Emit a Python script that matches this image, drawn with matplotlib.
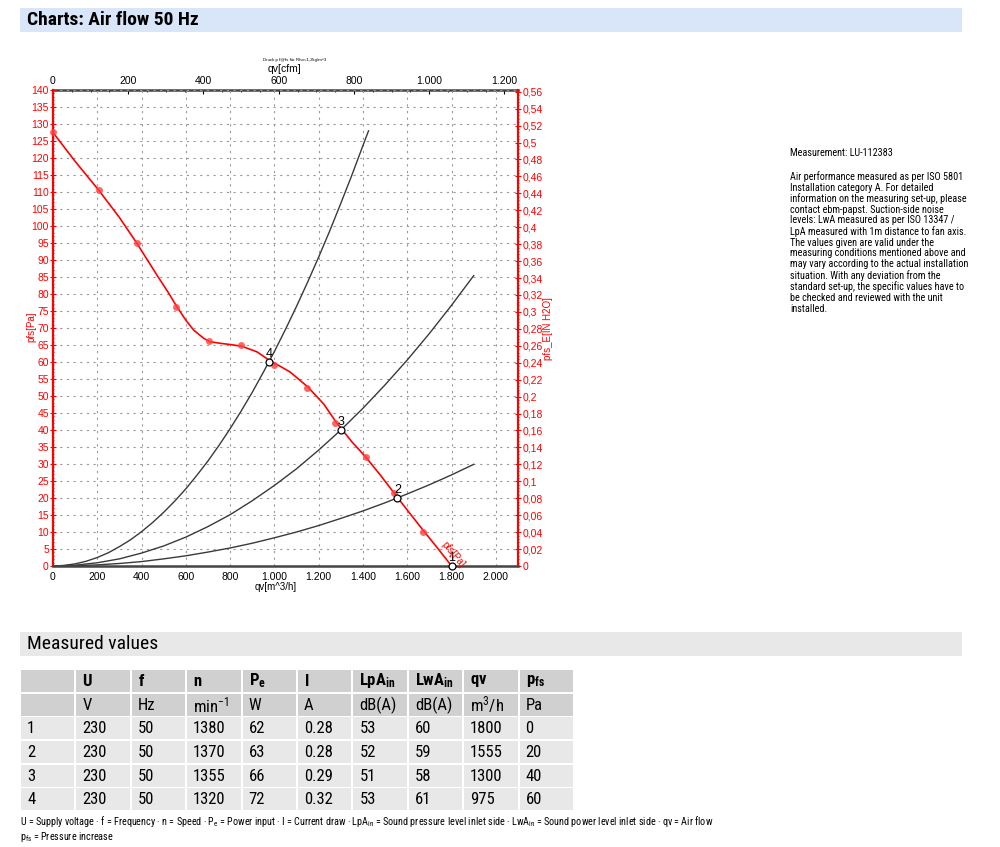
import numpy as np
import matplotlib
matplotlib.use("Agg")
import matplotlib.pyplot as plt
from matplotlib import font_manager
from matplotlib.patches import Rectangle
from matplotlib.ticker import MultipleLocator, FuncFormatter, FixedLocator

# pick a narrow Arial-like font if one is around
names = {f.name for f in font_manager.fontManager.ttflist}
NARROW = "Liberation Sans"
for cand in ["Liberation Sans Narrow", "Arial Narrow", "Roboto Condensed",
             "Archivo Narrow", "PT Sans Narrow", "Open Sans Condensed"]:
    if cand in names:
        NARROW = cand
        break
ARIAL = "Liberation Sans"
plt.rcParams["font.family"] = [ARIAL, "DejaVu Sans"]
plt.rcParams["mathtext.fontset"] = "custom"
plt.rcParams["mathtext.rm"] = NARROW
plt.rcParams["mathtext.bf"] = NARROW + ":bold"
plt.rcParams["mathtext.it"] = NARROW + ":italic"

# fan curve (line) and measured dots
q_line = [0, 100, 207, 300, 378, 470, 520, 559, 600, 635, 680, 707, 756, 805, 854,
          921, 979, 1030, 1072, 1152, 1223, 1280, 1350, 1413, 1480, 1553, 1610,
          1673, 1740, 1800]
p_line = [127.5, 119, 110.5, 102.5, 95, 85.5, 80.5, 76.3, 72.3, 69.4, 67, 66, 65.5,
          65.1, 64.6, 63, 60.4, 58.6, 57, 52.6, 47.6, 42.2, 36.5, 32, 26.6, 20.4,
          15.6, 10.4, 5, 0]
q_dots = [0, 207, 378, 557, 704, 850, 997, 1147, 1275, 1413, 1538, 1673]
p_dots = [127.6, 110.5, 95, 76.2, 66.3, 64.9, 59.0, 52.5, 42.1, 32, 21.6, 10.1]

# system curves through the operating points
sys_q = [0, 100, 200, 300, 400, 500, 600, 700, 800, 900, 1000,
         1100, 1200, 1300, 1400, 1500, 1600, 1700, 1800, 1900]
sys_p2 = [0, 0.08, 0.33, 0.74, 1.3, 2.1, 3.0, 4.1, 5.3, 6.7, 8.3,
          10.0, 11.9, 14.0, 16.2, 18.6, 21.2, 23.9, 26.8, 29.9]
sys_p3 = [0, 0.24, 0.95, 2.1, 3.8, 5.9, 8.5, 11.6, 15.1, 19.2, 23.7,
          28.6, 34.1, 40.0, 46.4, 53.3, 60.6, 68.4, 76.7, 85.4]
sys_q4 = [0, 50, 100, 150, 200, 250, 300, 350, 400, 450, 500, 550, 600, 650, 700,
          750, 800, 850, 900, 950, 1000, 1050, 1100, 1150, 1200, 1250, 1300,
          1350, 1400, 1425]
sys_p4 = [0, 0.16, 0.63, 1.4, 2.5, 3.9, 5.7, 7.7, 10.1, 12.8, 15.8, 19.1, 22.7,
          26.7, 30.9, 35.5, 40.4, 45.6, 51.1, 57.0, 63.1, 69.6, 76.4, 83.5, 90.9,
          98.6, 106.7, 115.0, 123.7, 128]

# operating points
op_q = [1800, 1555, 1300, 975]
op_p = [0, 20, 40, 60]
op_lbl = ["1", "2", "3", "4"]

# measured values table
head1 = ["", r"$\mathbf{U}$", r"$\mathbf{f}$", r"$\mathbf{n}$", r"$\mathbf{P_e}$",
         r"$\mathbf{I}$", r"$\mathbf{LpA_{in}}$", r"$\mathbf{LwA_{in}}$",
         r"$\mathbf{qv}$", r"$\mathbf{p_{fs}}$"]
head2 = ["", "V", "Hz", r"min$^{-1}$", "W", "A", "dB(A)", "dB(A)", r"m$^3$/h", "Pa"]
rows = [
    ["1", "230", "50", "1380", "62", "0.28", "53", "60", "1800", "0"],
    ["2", "230", "50", "1370", "63", "0.28", "52", "59", "1555", "20"],
    ["3", "230", "50", "1355", "66", "0.29", "51", "58", "1300", "40"],
    ["4", "230", "50", "1320", "72", "0.32", "53", "61", "975", "60"],
]

note_text = ("Air performance measured as per ISO 5801\nInstallation category A. For detailed\n"
             "information on the measuring set-up, please\ncontact ebm-papst. Suction-side noise\n"
             "levels: LwA measured as per ISO 13347 /\nLpA measured with 1m distance to fan axis.\n"
             "The values given are valid under the\nmeasuring conditions mentioned above and\n"
             "may vary according to the actual installation\nsituation. With any deviation from the\n"
             "standard set-up, the specific values have to\nbe checked and reviewed with the unit\ninstalled.")

W, H = 1000, 847
fig = plt.figure(figsize=(W / 100, H / 100), dpi=100)


def fx(x):
    return x / W


def fy(y):
    return 1 - y / H


def ftext(x, y, s, **kw):
    fig.text(fx(x), fy(y), s, **kw)


def box(x0, y0, x1, y1, color):
    fig.patches.append(Rectangle((fx(x0), fy(y1)), fx(x1) - fx(x0), fy(y0) - fy(y1),
                                 transform=fig.transFigure, facecolor=color,
                                 edgecolor="none", zorder=0))


# header bars
box(20, 8, 962, 32, "#d9e5f8")
ftext(27, 20, "Charts: Air flow 50 Hz", fontsize=14, fontweight="bold",
      family=NARROW, va="center", ha="left")
box(20, 632, 962, 656, "#e8e8e8")
ftext(27, 644, "Measured values", fontsize=14, family=NARROW, va="center", ha="left")

# ---- chart ----
L, R, T, B = 53, 518, 90, 566
ax = fig.add_axes([fx(L), fy(B), fx(R) - fx(L), fy(T) - fy(B)])
ax.set_xlim(0, 2100)
ax.set_ylim(0, 140)

red = "#ff0000"
ax.plot(sys_q, sys_p2, color="#3a3a3a", lw=1.0, zorder=2)
ax.plot(sys_q, sys_p3, color="#3a3a3a", lw=1.0, zorder=2)
ax.plot(sys_q4, sys_p4, color="#3a3a3a", lw=1.0, zorder=2)
ax.plot(q_line, p_line, color=red, lw=1.2, zorder=3)
ax.plot(q_dots, p_dots, "o", color="#ff4040", ms=5, mec="none", alpha=0.8,
        zorder=4, clip_on=False)
ax.plot(op_q, op_p, "o", mfc="white", mec="black", ms=5, mew=0.9, zorder=5, clip_on=False)
for q, p, s in zip(op_q, op_p, op_lbl):
    ax.annotate(s, (q, p), xytext=(0, 1.5), textcoords="offset points",
                ha="center", va="bottom", fontsize=9, color="black", zorder=6)
ax.text(1805, 3.5, "pfs[Pa]", color=red, fontsize=7, rotation=-50,
        ha="center", va="center", zorder=6)

ax.set_xticks(np.arange(0, 2001, 200))
ax.set_yticks(np.arange(0, 141, 5))
ax.yaxis.set_minor_locator(MultipleLocator(1))
ax.xaxis.set_major_formatter(FuncFormatter(lambda v, p: f"{int(round(v)):,}".replace(",", ".")))
ax.yaxis.set_major_formatter(FuncFormatter(lambda v, p: f"{int(round(v))}"))
ax.grid(True, color="#9a9a9a", lw=0.8, linestyle=(0, (2, 4)))
ax.tick_params(axis="x", labelsize=7.5, length=0, pad=4, colors="black")
ax.tick_params(axis="y", which="major", labelsize=7.5, length=4, direction="inout",
               colors=red, pad=1)
ax.tick_params(axis="y", which="minor", length=2, width=0.6, direction="inout", colors=red)
ax.spines["left"].set_color(red)
ax.spines["left"].set_linewidth(1.6)
ax.spines["right"].set_visible(False)
ax.spines["top"].set_visible(False)
ax.spines["bottom"].set_color("#444444")
ax.spines["bottom"].set_linewidth(1.8)

CFM = 1.699
top = ax.secondary_xaxis("top", functions=(lambda q: q / CFM, lambda c: c * CFM))
top.xaxis.set_major_locator(FixedLocator(np.arange(0, 1201, 200)))
top.xaxis.set_minor_locator(FixedLocator(np.arange(0, 1201, 50)))
top.xaxis.set_major_formatter(FuncFormatter(lambda v, p: f"{int(round(v)):,}".replace(",", ".")))
top.tick_params(axis="x", which="major", labelsize=7.5, length=3, direction="in", pad=3)
top.tick_params(axis="x", which="minor", length=1.5, width=0.6, direction="in")
top.spines["top"].set_color("#444444")
top.spines["top"].set_linewidth(1.8)

INH2O = 0.0040146
right = ax.secondary_yaxis("right", functions=(lambda p: p * INH2O, lambda w: w / INH2O))
right.yaxis.set_major_locator(FixedLocator(np.round(np.arange(0, 0.5601, 0.02), 2)))
right.yaxis.set_minor_locator(FixedLocator(np.arange(0, 0.5601, 0.004)))
right.yaxis.set_major_formatter(FuncFormatter(
    lambda v, p: ("%.2f" % v).rstrip("0").rstrip(".").replace(".", ",")))
right.tick_params(axis="y", which="major", labelsize=7.5, length=4, direction="inout",
                  colors=red, pad=1)
right.tick_params(axis="y", which="minor", length=2, width=0.6, direction="inout", colors=red)
right.spines["right"].set_color(red)
right.spines["right"].set_linewidth(1.6)

# axis titles
ftext(285, 69, "qv[cfm]", fontsize=7.5, ha="center", va="center")
ftext(276, 587, "qv[m^3/h]", fontsize=7, ha="center", va="center")
ftext(295, 60, "Druck p f@fs für Rho=1,2kg/m^3", fontsize=3.2, ha="center", va="center")
ftext(31, 327, "pfs[Pa]", fontsize=7, color=red, rotation=90, ha="center", va="center")
ftext(548, 329, "pfs_E[IN H2O]", fontsize=7, color=red, rotation=90, ha="center", va="center")

# ---- side note ----
ftext(790, 153, "Measurement: LU-112383", fontsize=7.3, family=NARROW, ha="left", va="center")
ftext(790, 171, note_text, fontsize=7.3, family=NARROW, ha="left", va="top", linespacing=1.08)

# ---- table ----
col_x = [21 + 55.4 * i for i in range(11)]
row_y = [670, 694, 717, 741, 765, 788]
row_h = 22
for r, cells in enumerate([head1, head2] + rows):
    y0 = row_y[r]
    color = "#d0d0d0" if r < 2 else "#e8e8e8"
    for c, val in enumerate(cells):
        box(col_x[c], y0, col_x[c + 1] - 2, y0 + row_h, color)
        if val:
            ftext(col_x[c] + 6, y0 + row_h / 2, val, fontsize=12, family=NARROW,
                  fontweight="bold" if r == 0 else "normal", ha="left", va="center")

ftext(20, 821, r"U = Supply voltage · f = Frequency · n = Speed · P$_\mathrm{e}$ = Power input · "
      r"I = Current draw · LpA$_\mathrm{in}$ = Sound pressure level inlet side · "
      r"LwA$_\mathrm{in}$ = Sound power level inlet side · qv = Air flow",
      fontsize=7.3, family=NARROW, ha="left", va="center")
ftext(20, 837, r"p$_\mathrm{fs}$ = Pressure increase", fontsize=7.3, family=NARROW,
      ha="left", va="center")

fig.savefig("out.png", dpi=100)
